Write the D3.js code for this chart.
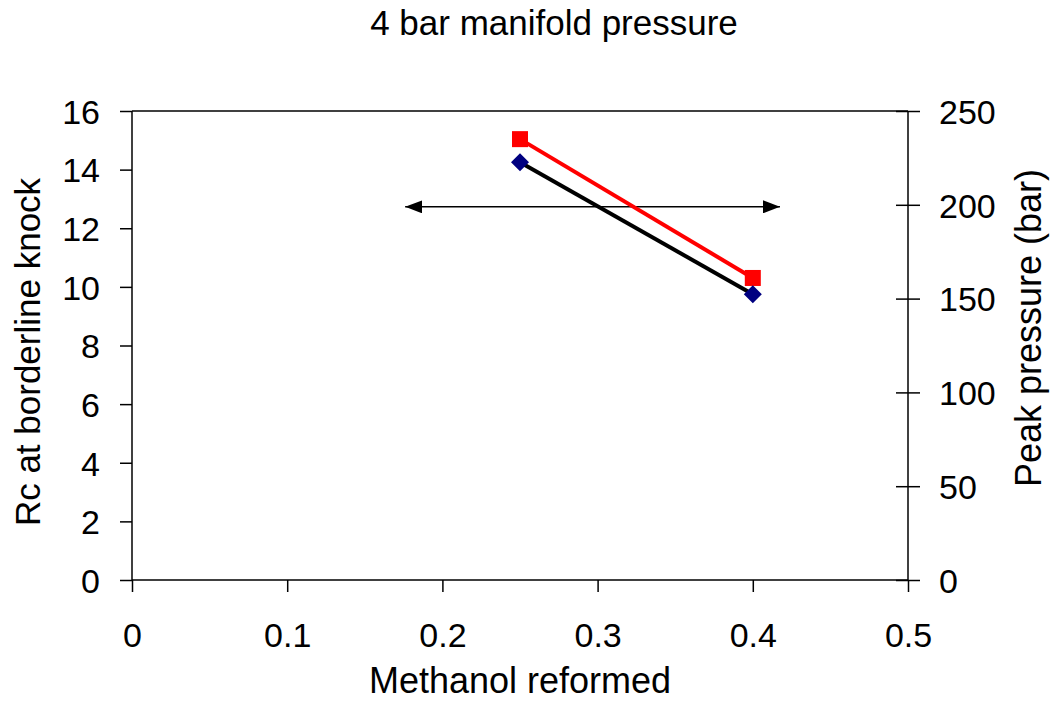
<!DOCTYPE html>
<html><head><meta charset="utf-8">
<script src="https://cdn.jsdelivr.net/npm/d3@7"></script>
<style>body{margin:0;background:#fff}svg{display:block}text{font-family:"Liberation Sans",Arial,sans-serif;fill:#000}</style>
</head><body><svg id="c" width="1050" height="702"></svg>
<script>
const methanol = [0.25, 0.4];
const rcKnock = [14.25, 9.75];
const peakPressure = [235, 161];
const arrowX = [0.176, 0.4175];
const arrowY = 12.73;
const xTicks = [0, 0.1, 0.2, 0.3, 0.4, 0.5];
const yLeftTicks = [0, 2, 4, 6, 8, 10, 12, 14, 16];
const yRightTicks = [0, 50, 100, 150, 200, 250];

const svg = d3.select("#c");
const L = 132, R = 908, T = 111, B = 580;
const x = d3.scaleLinear().domain([0, 0.5]).range([L, R]);
const yl = d3.scaleLinear().domain([0, 16]).range([B, T]);
const yr = d3.scaleLinear().domain([0, 250]).range([B, T]);

svg.append("defs").html(`
<marker id="ah" viewBox="0 0 17 13" refX="17" refY="6.5" markerWidth="17" markerHeight="13" markerUnits="userSpaceOnUse" orient="auto-start-reverse"><path d="M0,0 L17,6.5 L0,13 z" fill="#000"/></marker>`);

const g = svg.append("g");
g.append("line").attr("x1", L).attr("x2", R).attr("y1", T).attr("y2", T).attr("stroke", "#000").attr("stroke-width", 1.5);

const xa = g.append("g").attr("transform", `translate(0,${B})`)
  .call(d3.axisBottom(x).tickValues(xTicks).tickSize(12).tickFormat(d3.format("")));
const yla = g.append("g").attr("transform", `translate(${L},0)`)
  .call(d3.axisLeft(yl).tickValues(yLeftTicks).tickSize(12));
const yra = g.append("g").attr("transform", `translate(${R},0)`)
  .call(d3.axisRight(yr).tickValues(yRightTicks).tickSize(12));
yra.selectAll(".tick line").attr("x1", -12);
[xa, yla, yra].forEach(a => {
  a.attr("font-size", null).attr("font-family", null);
  a.select(".domain").attr("stroke", "#000").attr("stroke-width", 1.5);
  a.selectAll(".tick line").attr("stroke", "#000").attr("stroke-width", 1.5);
  a.selectAll("text").attr("font-size", 34).attr("fill", "#000");
});
xa.select(".domain").attr("d", `M${L},0H${R}`);
yla.select(".domain").attr("d", `M0,${B}V${T}`);
yra.select(".domain").attr("d", `M0,${B}V${T}`);
xa.selectAll("text").attr("y", 67).attr("dy", null);
yla.selectAll("text").attr("x", -32).attr("dy", "0.36em");
yra.selectAll("text").attr("x", 31).attr("dy", "0.36em");

// arrow annotation
g.append("line").attr("x1", x(arrowX[0])).attr("x2", x(arrowX[1]))
  .attr("y1", yl(arrowY)).attr("y2", yl(arrowY))
  .attr("stroke", "#000").attr("stroke-width", 1.5)
  .attr("marker-start", "url(#ah)").attr("marker-end", "url(#ah)");

// black series (left axis)
const lineL = d3.line().x((d, i) => x(methanol[i])).y(d => yl(d));
g.append("path").datum(rcKnock).attr("d", lineL).attr("fill", "none").attr("stroke", "#000").attr("stroke-width", 4);
// red series (right axis)
const lineR = d3.line().x((d, i) => x(methanol[i])).y(d => yr(d));
g.append("path").datum(peakPressure).attr("d", lineR).attr("fill", "none").attr("stroke", "#ff0000").attr("stroke-width", 4);

g.selectAll(".sq").data(peakPressure).enter().append("rect")
  .attr("x", (d, i) => x(methanol[i]) - 8).attr("y", d => yr(d) - 8)
  .attr("width", 16).attr("height", 16).attr("fill", "#ff0000");
g.selectAll(".dm").data(rcKnock).enter().append("path")
  .attr("transform", (d, i) => `translate(${x(methanol[i])},${yl(d)})`)
  .attr("d", "M0,-9L9,0L0,9L-9,0Z").attr("fill", "#000080");

// titles
svg.append("text").attr("x", 554).attr("y", 35).attr("text-anchor", "middle").attr("font-size", 35).text("4 bar manifold pressure");
svg.append("text").attr("x", 520).attr("y", 693).attr("text-anchor", "middle").attr("font-size", 36).text("Methanol reformed");
svg.append("text").attr("transform", `translate(40,352) rotate(-90)`).attr("text-anchor", "middle").attr("font-size", 35).text("Rc at borderline knock");
svg.append("text").attr("transform", `translate(1041,328) rotate(-90)`).attr("text-anchor", "middle").attr("font-size", 36).text("Peak pressure (bar)");
</script></body></html>
